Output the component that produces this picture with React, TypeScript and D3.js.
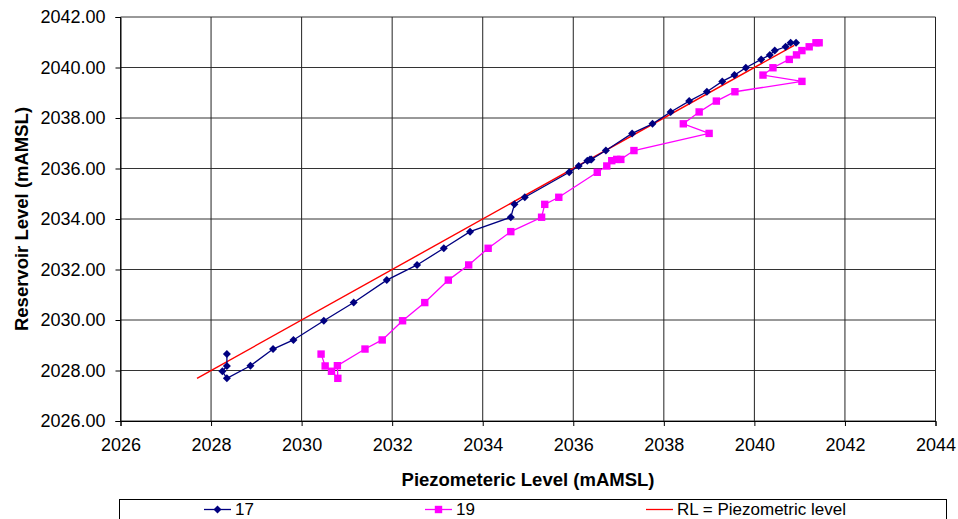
import { useEffect, useRef } from 'react';
import * as d3 from 'd3';

// reservoir level (y) shared by both piezometers, in reading order
const reservoir = [
  2028.65, 2028.18, 2027.97, 2027.69, 2028.19, 2028.85, 2029.21, 2029.97, 2030.69,
  2031.58, 2032.18, 2032.84, 2033.5, 2034.07, 2034.58, 2034.86, 2035.85, 2036.1,
  2036.31, 2036.36, 2036.36, 2036.71, 2037.39, 2037.77, 2038.24, 2038.67, 2039.04,
  2039.45, 2039.7, 2039.99, 2040.32, 2040.5, 2040.67, 2040.82, 2040.98, 2040.98,
];
const piezo17 = [
  2028.35, 2028.35, 2028.25, 2028.35, 2028.87, 2029.37, 2029.82, 2030.49, 2031.15,
  2031.88, 2032.55, 2033.14, 2033.72, 2034.62, 2034.7, 2034.93, 2035.91, 2036.12,
  2036.31, 2036.37, 2036.4, 2036.72, 2037.3, 2037.75, 2038.15, 2038.56, 2038.95,
  2039.29, 2039.56, 2039.81, 2040.15, 2040.34, 2040.45, 2040.69, 2040.8, 2040.92,
];
const piezo19 = [
  2030.43, 2030.52, 2030.66, 2030.8, 2030.79, 2031.4, 2031.78, 2032.23, 2032.72,
  2033.24, 2033.69, 2034.12, 2034.62, 2035.3, 2035.37, 2035.68, 2036.53, 2036.74,
  2036.85, 2036.96, 2037.05, 2037.34, 2039.0, 2038.43, 2038.78, 2039.16, 2039.57,
  2041.05, 2040.19, 2040.41, 2040.77, 2040.93, 2041.05, 2041.21, 2041.36, 2041.43,
];
const rlLine = [2027.69, 2040.88];
const xTicks = [2026, 2028, 2030, 2032, 2034, 2036, 2038, 2040, 2042, 2044];
const yTicks = [2026, 2028, 2030, 2032, 2034, 2036, 2038, 2040, 2042];

const FONT = 'Arial, "Liberation Sans", sans-serif';

export default function App() {
  const rootRef = useRef<SVGSVGElement | null>(null);

  useEffect(() => {
    document.body.style.margin = '0';
    const svg = d3.select(rootRef.current);
    svg.selectAll('*').remove();

    const width = 958;
    const height = 519;
    const plot = { left: 120.5, right: 935.5, top: 17, bottom: 421 };

    const x = d3.scaleLinear().domain([2026, 2044]).range([plot.left, plot.right]);
    const y = d3.scaleLinear().domain([2026, 2042]).range([plot.bottom, plot.top]);

    svg.append('rect').attr('width', width).attr('height', height).attr('fill', '#fff');

    // grid
    const grid = svg.append('g');
    yTicks.forEach(t => {
      grid.append('line')
        .attr('x1', plot.left).attr('x2', plot.right)
        .attr('y1', y(t)).attr('y2', y(t))
        .attr('stroke', '#333').attr('stroke-width', 1);
    });
    xTicks.forEach(t => {
      grid.append('line')
        .attr('x1', x(t)).attr('x2', x(t))
        .attr('y1', plot.top).attr('y2', plot.bottom)
        .attr('stroke', '#222').attr('stroke-width', 1);
    });

    // axes
    const yAxis = svg.append('g')
      .attr('transform', `translate(${plot.left},0)`)
      .call(d3.axisLeft(y).tickValues(yTicks).tickSize(5).tickPadding(10).tickFormat(d3.format('.2f')));
    const xAxis = svg.append('g')
      .attr('transform', `translate(0,${plot.bottom})`)
      .call(d3.axisBottom(x).tickValues(xTicks).tickSize(5).tickPadding(12).tickFormat(d3.format('d')));
    [xAxis, yAxis].forEach(a => {
      a.select('.domain').attr('stroke', '#000');
      a.selectAll('.tick line').attr('stroke', '#000');
      a.selectAll('.tick text')
        .attr('fill', '#000')
        .attr('font-family', FONT)
        .attr('font-size', 18);
    });

    // titles
    svg.append('text')
      .attr('x', (plot.left + plot.right) / 2)
      .attr('y', 486)
      .attr('text-anchor', 'middle')
      .attr('font-family', FONT)
      .attr('font-weight', 'bold')
      .attr('font-size', 18.5)
      .text('Piezometeric Level (mAMSL)');
    svg.append('text')
      .attr('transform', `translate(28,${(plot.top + plot.bottom) / 2}) rotate(-90)`)
      .attr('text-anchor', 'middle')
      .attr('font-family', FONT)
      .attr('font-weight', 'bold')
      .attr('font-size', 18.5)
      .text('Reservoir Level (mAMSL)');

    const lineGen = d3.line<[number, number]>().x(d => x(d[0])).y(d => y(d[1]));

    // RL line
    svg.append('path')
      .datum(rlLine.map(v => [v, v] as [number, number]))
      .attr('fill', 'none')
      .attr('stroke', '#ff0000')
      .attr('stroke-width', 1.4)
      .attr('d', lineGen);

    const s17 = piezo17.map((v, i) => [v, reservoir[i]] as [number, number]);
    const s19 = piezo19.map((v, i) => [v, reservoir[i]] as [number, number]);

    const diamond = (g: any, cx: number, cy: number, color: string) =>
      g.append('path')
        .attr('d', `M${cx},${cy - 4}L${cx + 4},${cy}L${cx},${cy + 4}L${cx - 4},${cy}Z`)
        .attr('fill', color);
    const square = (g: any, cx: number, cy: number, color: string) =>
      g.append('rect')
        .attr('x', cx - 3.7).attr('y', cy - 3.7)
        .attr('width', 7.4).attr('height', 7.4)
        .attr('fill', color);

    svg.append('path')
      .datum(s19)
      .attr('fill', 'none')
      .attr('stroke', '#ff00ff')
      .attr('stroke-width', 1.3)
      .attr('d', lineGen);
    const m19 = svg.append('g');
    s19.forEach(d => square(m19, x(d[0]), y(d[1]), '#ff00ff'));

    svg.append('path')
      .datum(s17)
      .attr('fill', 'none')
      .attr('stroke', '#000080')
      .attr('stroke-width', 1.3)
      .attr('d', lineGen);
    const m17 = svg.append('g');
    s17.forEach(d => diamond(m17, x(d[0]), y(d[1]), '#000080'));

    // legend (box runs past the bottom edge, as in the source)
    const legend = svg.append('g');
    legend.append('rect')
      .attr('x', 119.5).attr('y', 499.5)
      .attr('width', 827).attr('height', 40)
      .attr('fill', '#fff').attr('stroke', '#000').attr('stroke-width', 1);
    const ly = 509.5;
    const items = [
      { label: '17', color: '#000080', x0: 204, marker: 'diamond' },
      { label: '19', color: '#ff00ff', x0: 425, marker: 'square' },
      { label: 'RL = Piezometric level', color: '#ff0000', x0: 646, marker: 'none' },
    ];
    items.forEach(it => {
      legend.append('line')
        .attr('x1', it.x0).attr('x2', it.x0 + 27)
        .attr('y1', ly).attr('y2', ly)
        .attr('stroke', it.color).attr('stroke-width', 1.3);
      if (it.marker === 'diamond') diamond(legend, it.x0 + 13.5, ly, it.color);
      if (it.marker === 'square') square(legend, it.x0 + 13.5, ly, it.color);
      legend.append('text')
        .attr('x', it.x0 + 31)
        .attr('y', 514.5)
        .attr('font-family', FONT)
        .attr('font-size', 17)
        .attr('fill', '#000')
        .text(it.label);
    });

    return () => {
      svg.selectAll('*').remove();
    };
  }, []);

  return <svg ref={rootRef} width={958} height={519} style={{ display: 'block' }} />;
}
